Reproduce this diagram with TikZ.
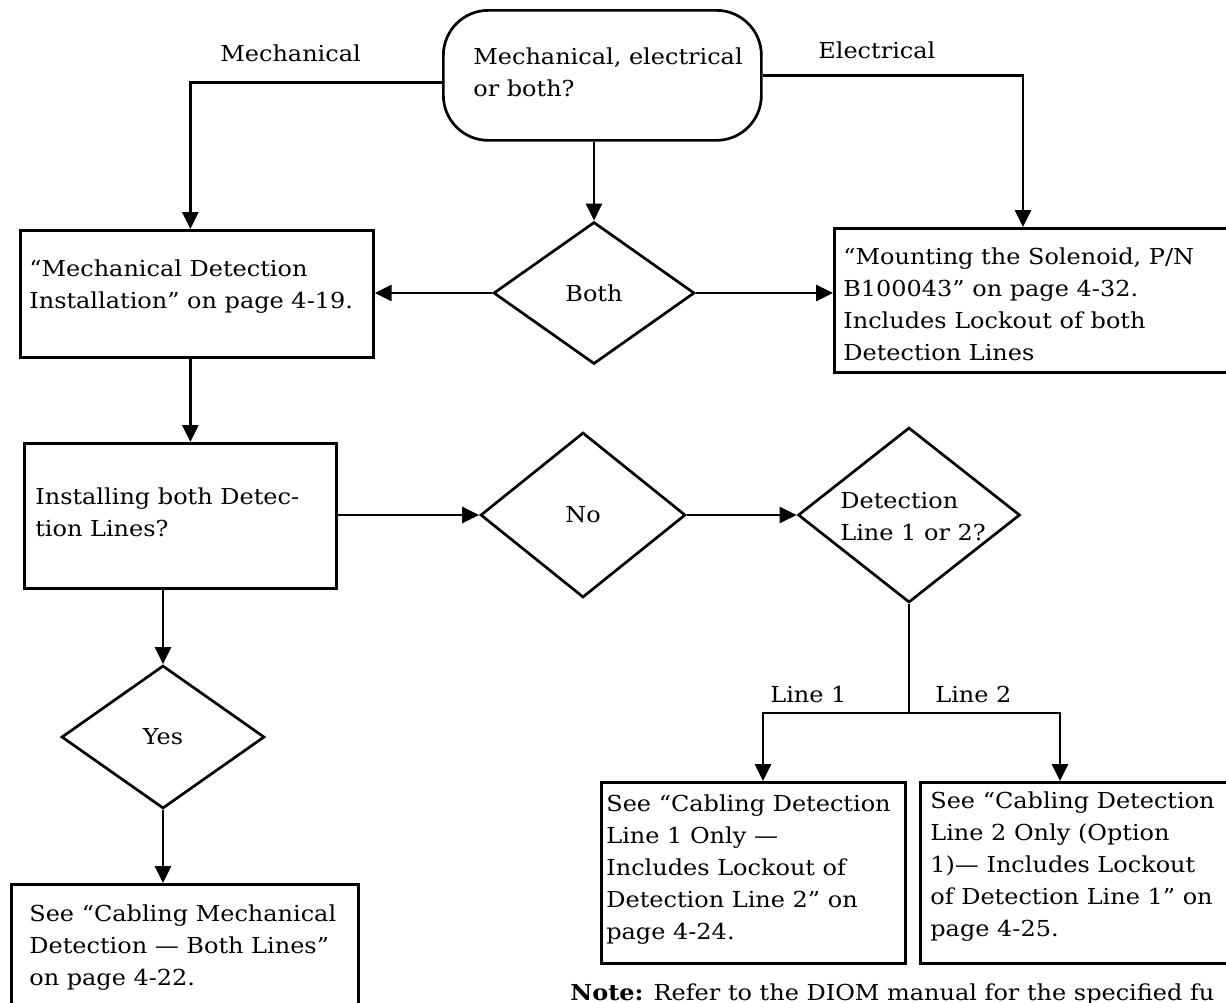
\documentclass[tikz,border=0pt]{standalone}
\usepackage{fontspec}
\setmainfont{DejaVu Serif}[FakeStretch=1.09]
\usetikzlibrary{arrows.meta,shapes.geometric}
\newcommand\firstln{\rule{0pt}{20pt}}
\begin{document}
\begin{tikzpicture}[x=1pt,y=-1pt,
  line width=2.7pt,
  every node/.style={font=\fontsize{22}{32}\selectfont},
  box/.style={draw, rectangle, inner sep=0pt, anchor=north west},
  dia/.style={draw, diamond, inner sep=0pt},
  txt/.style={anchor=north west, inner sep=0pt, align=left},
  lbl/.style={anchor=base west, inner sep=0pt},
  arr/.style={-{Triangle[length=17pt,width=16pt]}},
]
\useasboundingbox (0,0) rectangle (1226,1002);
\clip (0,0) rectangle (1226,1002);
% boxes
\node[box, rounded corners=45pt, minimum width=318pt, minimum height=130pt] (q) at (442,9) {};
\node[box, minimum width=353pt, minimum height=127pt] (b1) at (19,229) {};
\node[box, minimum width=450pt, minimum height=144pt] (sol) at (833,227) {};
\node[box, minimum width=312pt, minimum height=145pt] (b2) at (23,442) {};
\node[box, minimum width=347pt, minimum height=200pt] (b3) at (10,883) {};
\node[box, minimum width=304pt, minimum height=181pt] (l1) at (600,781) {};
\node[box, minimum width=400pt, minimum height=181pt] (l2) at (919,781) {};
% diamonds
\node[dia, minimum width=201pt, minimum height=142pt] (both) at (594,293) {Both};
\node[dia, minimum width=205pt, minimum height=165pt] (no) at (583,515) {No};
\node[dia, minimum width=222pt, minimum height=175pt] (det) at (909,515) {};
\node[dia, minimum width=203pt, minimum height=143pt] (yes) at (163,737) {Yes};
% texts
\node[txt] (qt) at (472,43) {\firstln Mechanical, electrical\\or both?};
\node[txt] (b1t) at (28,255) {\firstln “Mechanical Detection\\Installation” on page 4-19.};
\node[txt] (solt) at (842,243) {\firstln “Mounting the Solenoid, P/N\\B100043” on page 4-32.\\Includes Lockout of both\\Detection Lines};
\node[txt] (b2t) at (34,483) {\firstln Installing both Detec-\\tion Lines?};
\node[txt] (b3t) at (28,900) {\firstln See “Cabling Mechanical\\Detection — Both Lines”\\on page 4-22.};
\node[txt] (l1t) at (605,790) {\firstln See “Cabling Detection\\Line 1 Only —\\Includes Lockout of\\Detection Line 2” on\\page 4-24.};
\node[txt] (l2t) at (929,787) {\firstln See “Cabling Detection\\Line 2 Only (Option\\1)— Includes Lockout\\of Detection Line 1” on\\page 4-25.};
\node[txt] (dett) at (839,487) {\firstln Detection\\Line 1 or 2?};
% labels
\node[lbl] (lm) at (219,61) {Mechanical};
\node[lbl] (le) at (817,58) {Electrical};
\node[lbl] (ll1) at (769,702) {Line 1};
\node[lbl] (ll2) at (934,702) {Line 2};
\node[lbl] (note) at (569,1000) {\textbf{Note:} Refer to the DIOM manual for the specified fu};
% connectors
\draw[arr] ([yshift=-7pt]q.west) -| ([xshift=-6.5pt]b1.north);
\draw[arr] (q.east) -| ([xshift=190pt]sol.north west);
\draw[arr] (q.south -| both.north) -- (both.north);
\draw[arr] (both.west) -- (b1.east |- both.west);
\draw[arr] (both.east) -- (sol.west |- both.east);
\draw[arr] ([xshift=-6.5pt]b1.south) -- ([xshift=-6.5pt]b1.south |- b2.north);
\draw[arr] (b2.east |- no.west) -- (no.west);
\draw[arr] (no.east) -- (det.west);
\draw[arr] (b2.south -| yes.north) -- (yes.north);
\draw[arr] (yes.south) -- (yes.south |- b3.north);
\coordinate (j) at (909,713);
\draw (det.south) -- (j);
\draw[arr] (j) -| ([xshift=163pt]l1.north west);
\draw[arr] (j) -| ([xshift=141pt]l2.north west);
\end{tikzpicture}
\end{document}
